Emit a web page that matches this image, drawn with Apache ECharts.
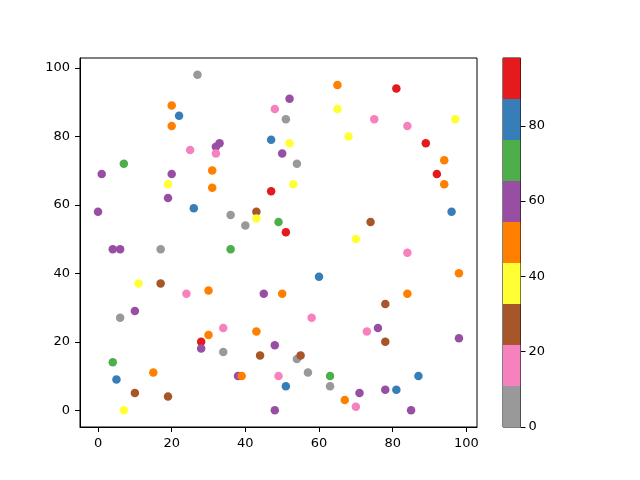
<!DOCTYPE html>
<html>
<head>
<meta charset="utf-8">
<script src="https://cdn.jsdelivr.net/npm/echarts@6/dist/echarts.min.js"></script>
<style>
  html, body { margin: 0; padding: 0; background: #fff; }
  #main { width: 640px; height: 480px; }
</style>
</head>
<body>
<div id="main"></div>
<script>
// scatter points: x, y and colour value
var xs = [27, 20, 22, 20, 25, 33, 32, 32, 48, 47, 7, 1, 20, 19, 31, 31, 47, 19, 0, 26,
          36, 43, 43, 40, 49, 65, 81, 52, 65, 51, 75, 84, 97, 68, 52, 89, 50, 54, 94, 92,
          94, 53, 96, 51, 74, 70, 4, 6, 17, 36, 11, 17, 24, 30, 45, 50, 10, 6, 34, 43,
          30, 28, 28, 34, 44, 48, 4, 15, 5, 38, 39, 49, 10, 19, 7, 48, 84, 60, 98, 84,
          78, 58, 76, 73, 98, 78, 54, 55, 57, 63, 87, 51, 63, 71, 78, 81, 67, 70, 85];
var ys = [98, 89, 86, 83, 76, 78, 77, 75, 88, 79, 72, 69, 69, 66, 70, 65, 64, 62, 58, 59,
          57, 58, 56, 54, 55, 95, 94, 91, 88, 85, 85, 83, 85, 80, 78, 78, 75, 72, 73, 69,
          66, 66, 58, 52, 55, 50, 47, 47, 47, 47, 37, 37, 34, 35, 34, 34, 29, 27, 24, 23,
          22, 20, 18, 17, 16, 19, 14, 11, 9, 10, 10, 10, 5, 4, 0, 0, 46, 39, 40, 34,
          31, 27, 24, 23, 21, 20, 15, 16, 11, 10, 10, 7, 7, 5, 6, 6, 3, 1, 0];
var cs = [0, 49, 82, 49, 16, 60, 60, 16, 16, 82, 71, 60, 60, 38, 49, 49, 93, 60, 60, 82,
          5, 27, 38, 5, 71, 49, 98, 60, 38, 5, 16, 16, 38, 38, 38, 93, 60, 5, 49, 93,
          49, 38, 82, 93, 27, 38, 60, 60, 5, 71, 38, 27, 16, 49, 60, 49, 60, 5, 16, 49,
          49, 93, 60, 5, 27, 60, 71, 49, 82, 60, 49, 16, 27, 27, 38, 60, 16, 82, 49, 49,
          27, 16, 60, 16, 60, 27, 5, 27, 5, 71, 82, 82, 5, 60, 60, 82, 49, 16, 60];

// Set1 reversed
var cmap = ['#999999', '#f781bf', '#a65628', '#ffff33', '#ff7f00',
            '#984ea3', '#4daf4a', '#377eb8', '#e41a1c'];
var tickVals = [0, 20, 40, 60, 80, 100];
var cbTicks = [0, 20, 40, 60, 80];

var vmin = Math.min.apply(null, cs);
var vmax = Math.max.apply(null, cs);
var step = (vmax - vmin) / cmap.length;

var points = xs.map(function (x, i) { return [x, ys[i], cs[i]]; });

var pieces = cmap.map(function (c, i) {
    var p = { gte: vmin + i * step, color: c };
    if (i < cmap.length - 1) p.lt = vmin + (i + 1) * step;
    return p;
});

var cbSeries = cmap.map(function (c) {
    return {
        type: 'bar', xAxisIndex: 1, yAxisIndex: 1, stack: 'cb',
        barWidth: '100%', data: [step], itemStyle: { color: c }, silent: true
    };
});

var font = { fontFamily: 'DejaVu Sans', fontSize: 13, color: '#000' };

var chart = echarts.init(document.getElementById('main'));
chart.setOption({
    animation: false,
    backgroundColor: '#fff',
    grid: [
        { left: 80, top: 58, width: 397, height: 369, show: true,
          borderColor: '#000', borderWidth: 1, backgroundColor: 'transparent' },
        { left: 503, top: 58, width: 17.5, height: 369, show: true,
          borderColor: '#000', borderWidth: 1, backgroundColor: 'transparent' }
    ],
    xAxis: [
        { type: 'value', gridIndex: 0, min: -4.9, max: 102.9,
          axisLine: { show: true, onZero: false, lineStyle: { color: '#000' } },
          axisTick: { show: true, length: 5, customValues: tickVals, lineStyle: { color: '#000' } },
          axisLabel: Object.assign({ margin: 10, customValues: tickVals }, font),
          splitLine: { show: false } },
        { type: 'category', gridIndex: 1, data: ['cb'], show: false }
    ],
    yAxis: [
        { type: 'value', gridIndex: 0, min: -4.9, max: 102.9,
          axisLine: { show: true, onZero: false, lineStyle: { color: '#000' } },
          axisTick: { show: true, length: 5, customValues: tickVals, lineStyle: { color: '#000' } },
          axisLabel: Object.assign({ margin: 10, customValues: tickVals }, font),
          splitLine: { show: false } },
        { type: 'value', gridIndex: 1, min: vmin, max: vmax, position: 'right',
          axisLine: { show: false },
          axisTick: { show: true, length: 5, customValues: cbTicks, lineStyle: { color: '#000' } },
          axisLabel: Object.assign({ margin: 8, customValues: cbTicks }, font),
          splitLine: { show: false } }
    ],
    visualMap: {
        type: 'piecewise', show: false, seriesIndex: 0, dimension: 2, pieces: pieces
    },
    series: [
        { type: 'scatter', xAxisIndex: 0, yAxisIndex: 0, symbolSize: 8.5,
          itemStyle: { opacity: 1 }, data: points }
    ].concat(cbSeries)
});
</script>
</body>
</html>
